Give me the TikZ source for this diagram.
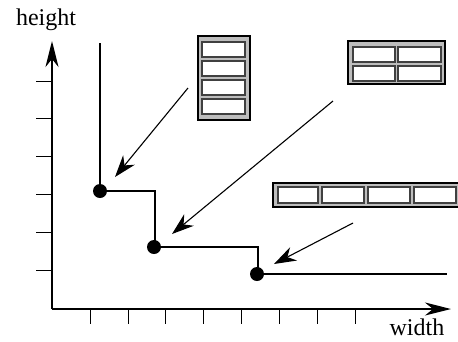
\documentclass[tikz,border=0pt]{standalone}
\usepackage{fontspec}
\setmainfont{Liberation Serif}
\usetikzlibrary{arrows.meta}
\begin{document}
\begin{tikzpicture}[x=1pt,y=-1pt,
  axis/.style={line width=1.6pt},
  bigtip/.style={-{Stealth[length=26pt,width=13pt,inset=8pt]}},
  pointer/.style={line width=1.1pt,-{Stealth[length=22pt,width=15pt,inset=7pt]}},
  stepline/.style={line width=2.6pt},
  dot/.style={circle,fill=black,inner sep=0pt,minimum size=14pt},
  frame/.style={draw=black,line width=2.6pt,fill=black!26},
  cell/.style={draw=black!75,line width=1.3pt,fill=white},
  lbl/.style={font=\fontsize{24}{27}\selectfont,inner sep=0pt}]
\clip (0,0) rectangle (458,341);
\useasboundingbox (0,0) rectangle (458,341);
% axes
\coordinate (O) at (52,309);
\coordinate (Ytop) at (52,41);
\coordinate (Xend) at (451,309);
\draw[axis,bigtip] (O) -- (Ytop);
\draw[axis,bigtip] (O) -- (Xend);
\foreach \y in {81,118,156,194,232,270} \draw[line width=1pt] (36,\y) -- (52,\y);
\foreach \x in {90,128,165,203,241,279,317,355} \draw[line width=1pt] (\x,309) -- (\x,324);
\node[lbl] (hl) at (46,20) {height};
\node[lbl] (wl) at (417,327) {width};
% step function
\node[dot] (c1) at (100,191) {};
\node[dot] (c2) at (154,247) {};
\node[dot] (c3) at (257,274) {};
\draw[stepline] (100,43) -- (c1.center) -- (155,191) -- (155,247) -- (c2.center) -- (258,247) -- (258,274) -- (c3.center) -- (447,274);
% box 1
\draw[frame] (198,36) rectangle (250,120);
\foreach \y in {42,61,80,99} \draw[cell] (202,\y) rectangle (245,\y+15);
% box 2
\draw[frame] (348,41) rectangle (445,84);
\foreach \x/\w in {353/42,398/43} \foreach \y in {47,66} \draw[cell] (\x,\y) rectangle (\x+\w,\y+15);
% box 3
\draw[frame] (273,183) rectangle (470,207);
\foreach \x/\w in {278/40,322/42,368/42,414/42} \draw[cell] (\x,187) rectangle (\x+\w,203);
% pointers
\coordinate (a1s) at (188,88);  \coordinate (a1e) at (115,177);
\coordinate (a2s) at (333,101); \coordinate (a2e) at (172,234);
\coordinate (a3s) at (353,223); \coordinate (a3e) at (274,264);
\draw[pointer] (a1s) -- (a1e);
\draw[pointer] (a2s) -- (a2e);
\draw[pointer] (a3s) -- (a3e);
\end{tikzpicture}
\end{document}
